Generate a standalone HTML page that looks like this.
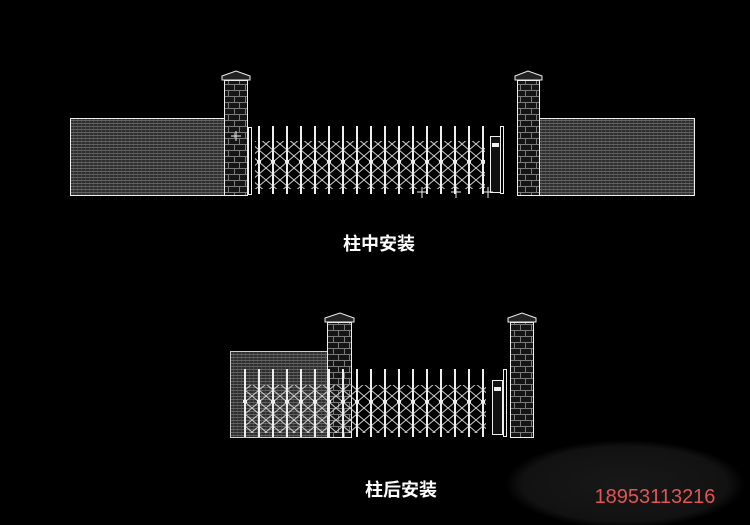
<!DOCTYPE html>
<html><head><meta charset="utf-8"><style>
html,body{margin:0;padding:0;background:#000;width:750px;height:525px;overflow:hidden}
</style></head><body>
<svg width="750" height="525" viewBox="0 0 750 525" xmlns="http://www.w3.org/2000/svg">
<defs>
<pattern id="wall" width="4" height="3" patternUnits="userSpaceOnUse">
<rect width="4" height="3" fill="#2e2e2e"/><rect width="4" height="1" fill="#626262"/><rect x="1" y="1" width="1" height="2" fill="#454545"/>
</pattern>
<pattern id="brick" width="11" height="12" patternUnits="userSpaceOnUse">
<rect width="11" height="12" fill="#151515"/>
<path d="M0 0.5H11M0 6.5H11M3.5 0V6M8.5 6V12" stroke="#7a7a7a" stroke-width="1" fill="none"/>
</pattern>
<pattern id="lat" width="28" height="24" patternUnits="userSpaceOnUse">
<path d="M0 0L28 24M28 0L0 24M14 0L28 12L14 24L0 12Z" stroke="#d0d0d0" stroke-width="1" fill="none"/>
</pattern>
<pattern id="posts" width="14" height="80" patternUnits="userSpaceOnUse">
<rect x="6" y="0" width="2" height="80" fill="#eee"/>
<rect x="5" y="0" width="4" height="3" fill="#eee"/>
</pattern>
<radialGradient id="blob" cx="50%" cy="50%" r="50%">
<stop offset="0" stop-color="#181818"/><stop offset="0.85" stop-color="#121212"/><stop offset="1" stop-color="#000"/>
</radialGradient>
</defs>
<rect width="750" height="525" fill="#000"/>
<ellipse cx="625" cy="484" rx="120" ry="44" fill="url(#blob)"/>

<rect x="70.5" y="118.5" width="154" height="77" fill="url(#wall)" stroke="#eee"/>
<rect x="539.5" y="118.5" width="155" height="77" fill="url(#wall)" stroke="#eee"/>
<rect x="224.5" y="80.5" width="23" height="115" fill="url(#brick)" stroke="#eee"/>
<path d="M222 80H250V76L236 71L222 76Z" fill="#222" stroke="#eee"/>
<rect x="517.5" y="80.5" width="22" height="115" fill="url(#brick)" stroke="#eee"/>
<path d="M515 80H542V76L528 71L515 76Z" fill="#222" stroke="#eee"/>
<path d="M231 136H241M236 131V141" stroke="#eee"/>
<rect x="255" y="141" width="230" height="48" fill="url(#lat)"/>
<rect x="249" y="126" width="238" height="68" fill="url(#posts)"/>
<rect x="248.5" y="127.5" width="3" height="67" fill="none" stroke="#eee"/>
<rect x="490.5" y="136.5" width="10" height="56" fill="#111" stroke="#eee"/>
<rect x="500.5" y="126.5" width="3" height="67" fill="none" stroke="#eee"/>
<rect x="492" y="143" width="7" height="4" fill="#eee"/>
<path d="M417 192H427M422 187V198M451 192H461M456 187V198M483 192H493M488 187V198" stroke="#eee"/>
<text x="379" y="250" font-family="Liberation Sans, Noto Sans CJK SC, sans-serif" font-size="18" font-weight="bold" fill="#fff" text-anchor="middle">柱中安装</text>

<rect x="230.5" y="351.5" width="97" height="86" fill="url(#wall)" stroke="#ccc"/>
<rect x="327.5" y="322.5" width="24" height="115" fill="url(#brick)" stroke="#eee"/>
<path d="M325 322H354V318L340 313L325 318Z" fill="#222" stroke="#eee"/>
<rect x="510.5" y="322.5" width="23" height="115" fill="url(#brick)" stroke="#eee"/>
<path d="M508 322H536V318L522 313L508 318Z" fill="#222" stroke="#eee"/>
<rect x="246" y="385" width="240" height="48" fill="url(#lat)"/>
<rect x="239" y="369" width="252" height="68" fill="url(#posts)"/>
<rect x="492.5" y="380.5" width="10" height="54" fill="#111" stroke="#eee"/>
<rect x="503.5" y="369.5" width="3" height="67" fill="none" stroke="#eee"/>
<rect x="494" y="387" width="7" height="4" fill="#eee"/>
<text x="401" y="496" font-family="Liberation Sans, Noto Sans CJK SC, sans-serif" font-size="18" font-weight="bold" fill="#fff" text-anchor="middle">柱后安装</text>

<text x="655" y="503" font-family="Liberation Sans, sans-serif" font-size="20" fill="#e05555" text-anchor="middle">18953113216</text>
</svg>
</body></html>
